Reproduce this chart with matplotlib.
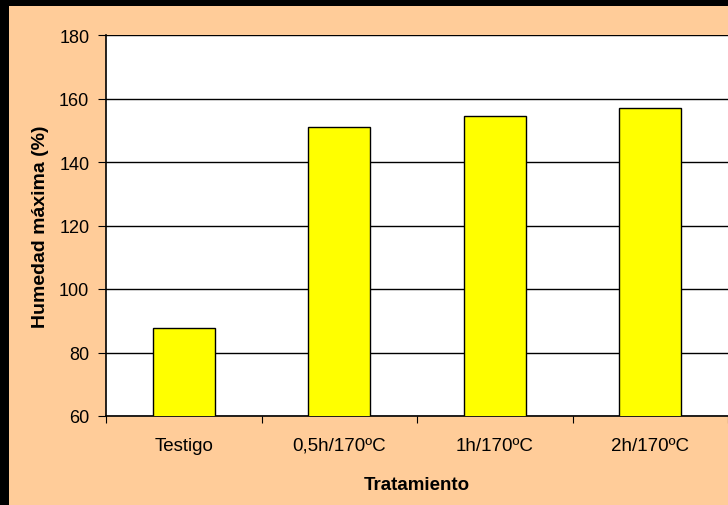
import matplotlib
matplotlib.use("Agg")
import matplotlib.pyplot as plt
from matplotlib.patches import Rectangle

plt.rcParams['font.family'] = ['Liberation Sans', 'DejaVu Sans']

# datos
tratamientos = ["Testigo", "0,5h/170ºC", "1h/170ºC", "2h/170ºC"]
humedad = [87.7, 151.0, 154.5, 157.0]
yticks = [60, 80, 100, 120, 140, 160, 180]

fig = plt.figure(figsize=(7.28, 5.06), dpi=100)
fig.patch.set_facecolor("#FFCC99")

# marco negro arriba e izquierda
fig.patches.append(Rectangle((0, 1 - 7 / 506), 1, 7 / 506, transform=fig.transFigure,
                             facecolor="black", edgecolor="none", zorder=0))
fig.patches.append(Rectangle((0, 0), 9 / 728, 1, transform=fig.transFigure,
                             facecolor="black", edgecolor="none", zorder=0))

ax = fig.add_axes([106 / 728, 1 - 417 / 506, 622 / 728, 381 / 506])
ax.set_facecolor("white")

x = range(len(tratamientos))
ax.bar(x, humedad, width=0.4, color="#FFFF00", edgecolor="black", linewidth=1, zorder=3)

ax.set_ylim(60, 180)
ax.set_xlim(-0.5, len(tratamientos) - 0.5)
ax.set_yticks(yticks)
ax.yaxis.grid(True, color="black", linewidth=1, zorder=0)

# ticks de categoria en los bordes
ax.set_xticks([i - 0.5 for i in range(len(tratamientos) + 1)])
ax.set_xticklabels([])
ax.set_xticks(list(x), minor=True)
ax.set_xticklabels(tratamientos, minor=True)
ax.tick_params(axis="x", which="minor", length=0, pad=15, labelsize=13.5)
ax.tick_params(axis="x", which="major", length=5, direction="out", color="black")
ax.tick_params(axis="y", length=6, direction="out", labelsize=13, pad=6)

for s in ["top", "right"]:
    ax.spines[s].set_visible(False)
ax.spines["left"].set_linewidth(1.2)
ax.spines["bottom"].set_linewidth(1.2)

ax.set_xlabel("Tratamiento", fontsize=13.5, fontweight="bold", labelpad=16)
ax.set_ylabel("Humedad máxima (%)", fontsize=14, fontweight="bold", labelpad=7)

plt.savefig("out.png", dpi=100, facecolor=fig.get_facecolor())
